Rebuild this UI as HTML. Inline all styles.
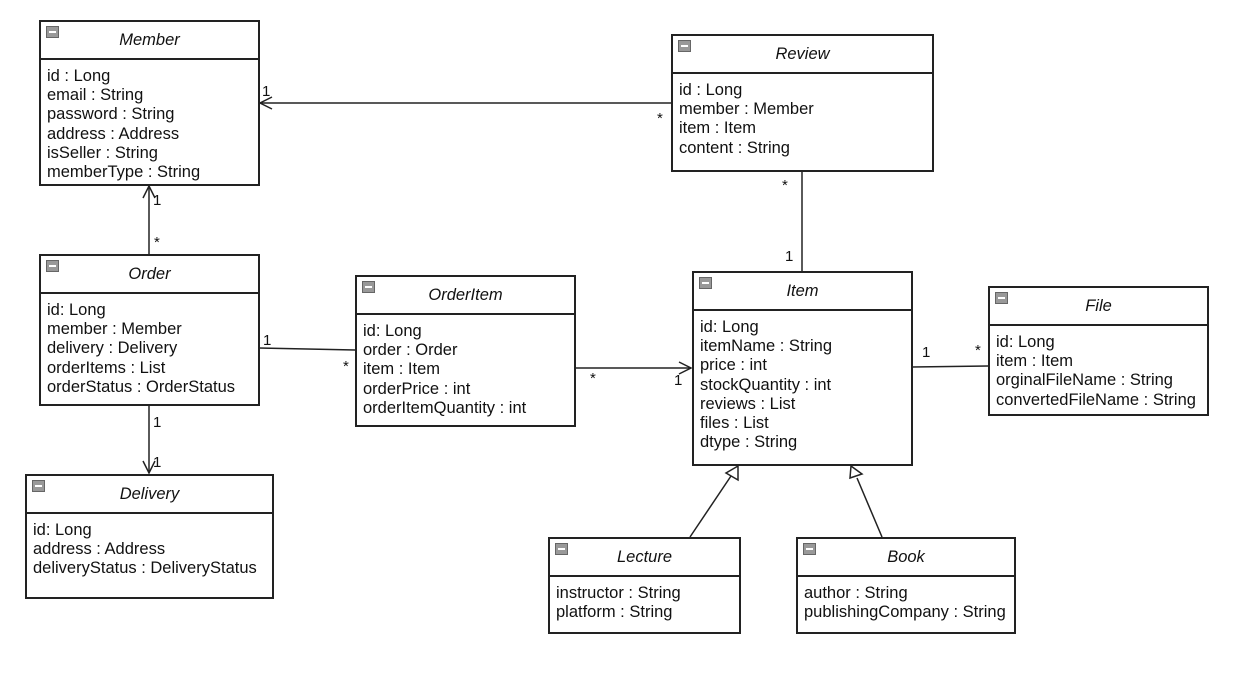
<!DOCTYPE html>
<html><head><style>
body{margin:0;width:1237px;height:678px;background:#fff;position:relative;overflow:hidden;font-family:"Liberation Sans",Arial,sans-serif;color:#111}
.b{position:absolute;border:2px solid #222;box-sizing:border-box;background:#fff}
.h{position:absolute;left:0;right:0;top:0;height:36px;border-bottom:2px solid #222;font-style:italic;font-size:16.5px;text-align:center;line-height:36px}
.i{position:absolute;left:5px;top:4px;width:11px;height:10px;background:#999;border:1px solid #666}
.i:after{content:"";position:absolute;left:2px;right:2px;top:4px;height:2px;background:#fff}
.a{position:absolute;left:6px;top:45px;font-size:16.5px;line-height:19.2px;white-space:pre}
.l{position:absolute;font-size:15px}
svg{position:absolute;left:0;top:0}
</style></head><body>
<svg width="1237" height="678" stroke="#222" stroke-width="1.5" fill="none">
<line x1="671" y1="103" x2="260" y2="103"/><polyline points="272,97 260,103 272,109"/>
<line x1="149" y1="254" x2="149" y2="186"/><polyline points="143,198 149,186 155,198"/>
<line x1="149" y1="405" x2="149" y2="473"/><polyline points="143,461 149,473 155,461"/>
<line x1="259" y1="348" x2="355" y2="350"/>
<line x1="575" y1="368" x2="691" y2="368"/><polyline points="679,362 691,368 679,374"/>
<line x1="802" y1="171" x2="802" y2="271"/>
<line x1="912" y1="367" x2="988" y2="366"/>
<line x1="690" y1="537" x2="731" y2="476"/><polygon points="738,466 738,480 726,473" fill="#fff"/>
<line x1="882" y1="537" x2="857" y2="478"/><polygon points="851,466 862,474 850,478" fill="#fff"/>
</svg>
<div class="b" style="left:39px;top:20px;width:221px;height:166px"><div class="h"><span class="i"></span>Member</div><div class="a" style="top:45px">id : Long
email : String
password : String
address : Address
isSeller : String
memberType : String</div></div>
<div class="b" style="left:671px;top:34px;width:263px;height:138px"><div class="h"><span class="i"></span>Review</div><div class="a">id : Long
member : Member
item : Item
content : String</div></div>
<div class="b" style="left:39px;top:254px;width:221px;height:152px"><div class="h"><span class="i"></span>Order</div><div class="a">id: Long
member : Member
delivery : Delivery
orderItems : List
orderStatus : OrderStatus</div></div>
<div class="b" style="left:355px;top:275px;width:221px;height:152px"><div class="h"><span class="i"></span>OrderItem</div><div class="a">id: Long
order : Order
item : Item
orderPrice : int
orderItemQuantity : int</div></div>
<div class="b" style="left:692px;top:271px;width:221px;height:195px"><div class="h"><span class="i"></span>Item</div><div class="a">id: Long
itemName : String
price : int
stockQuantity : int
reviews : List
files : List
dtype : String</div></div>
<div class="b" style="left:988px;top:286px;width:221px;height:130px"><div class="h"><span class="i"></span>File</div><div class="a">id: Long
item : Item
orginalFileName : String
convertedFileName : String</div></div>
<div class="b" style="left:25px;top:474px;width:249px;height:125px"><div class="h"><span class="i"></span>Delivery</div><div class="a">id: Long
address : Address
deliveryStatus : DeliveryStatus</div></div>
<div class="b" style="left:548px;top:537px;width:193px;height:97px"><div class="h"><span class="i"></span>Lecture</div><div class="a">instructor : String
platform : String</div></div>
<div class="b" style="left:796px;top:537px;width:220px;height:97px"><div class="h"><span class="i"></span>Book</div><div class="a">author : String
publishingCompany : String</div></div>
<div class="l" style="left:262px;top:83px">1</div>
<div class="l" style="left:657px;top:110px">*</div>
<div class="l" style="left:153px;top:192px">1</div>
<div class="l" style="left:154px;top:234px">*</div>
<div class="l" style="left:153px;top:414px">1</div>
<div class="l" style="left:153px;top:454px">1</div>
<div class="l" style="left:263px;top:332px">1</div>
<div class="l" style="left:343px;top:358px">*</div>
<div class="l" style="left:590px;top:370px">*</div>
<div class="l" style="left:674px;top:372px">1</div>
<div class="l" style="left:782px;top:177px">*</div>
<div class="l" style="left:785px;top:248px">1</div>
<div class="l" style="left:922px;top:344px">1</div>
<div class="l" style="left:975px;top:342px">*</div>
</body></html>
